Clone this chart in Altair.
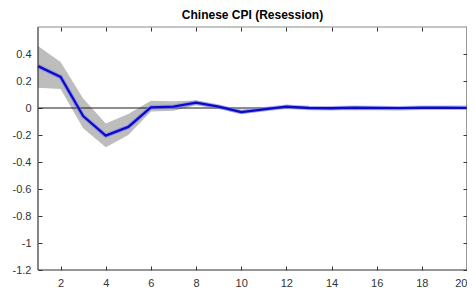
import altair as alt
import pandas as pd

steps = list(range(1, 21))
irf = [0.31, 0.23, -0.06, -0.205, -0.14, 0.005, 0.01, 0.04, 0.01, -0.03,
       -0.01, 0.01, 0.0, -0.002, 0.002, 0.0, -0.001, 0.002, 0.002, 0.001]
upper = [0.46, 0.34, 0.07, -0.115, -0.045, 0.054, 0.05, 0.055, 0.02, -0.015,
         0.0, 0.02, 0.01, 0.008, 0.01, 0.008, 0.006, 0.008, 0.007, 0.006]
lower = [0.15, 0.14, -0.15, -0.29, -0.2, -0.025, -0.02, 0.02, -0.005, -0.045,
         -0.02, 0.0, -0.01, -0.012, -0.006, -0.008, -0.008, -0.004, -0.003, -0.004]
x_ticks = [2, 4, 6, 8, 10, 12, 14, 16, 18, 20]
y_ticks = [0.4, 0.2, 0, -0.2, -0.4, -0.6, -0.8, -1, -1.2]
x_limits = [1, 20]
y_limits = [-1.2, 0.6]

df = pd.DataFrame({"step": steps, "irf": irf, "upper": upper, "lower": lower})
frame_df = pd.DataFrame({"x0": [x_limits[0]], "x1": [x_limits[1]],
                         "y0": [y_limits[0]], "y1": [y_limits[1]]})

xs = alt.Scale(domain=x_limits, nice=False, zero=False)
ys = alt.Scale(domain=y_limits, nice=False, zero=False)

tick_common = dict(domain=False, grid=False, tickSize=4, offset=-4, tickColor="#333333",
                   tickWidth=1,
                   labelColor="#333333", labelFont="Liberation Sans", labelFontSize=11,
                   title=None)

xax = alt.Axis(values=x_ticks, orient="bottom", labelPadding=7,
               labelExpr="'' + datum.value", **tick_common)
yax = alt.Axis(values=y_ticks, orient="left", labelPadding=7,
               labelExpr="'' + datum.value", **tick_common)
xax_top = alt.Axis(values=x_ticks, orient="top", labels=False, **tick_common)
yax_right = alt.Axis(values=y_ticks, orient="right", labels=False, **tick_common)

base = alt.Chart(df)

band = base.mark_area(color="#bdbdbd", opacity=1).encode(
    x=alt.X("step:Q", scale=xs, axis=xax),
    y=alt.Y("upper:Q", scale=ys, axis=yax),
    y2="lower:Q",
)

zero = alt.Chart(frame_df).mark_rule(color="#1a1a1a", strokeWidth=1).encode(
    x=alt.X("x0:Q", scale=xs, axis=None),
    x2="x1:Q",
    y=alt.Y(datum=0, scale=ys, axis=None),
)

halo = base.mark_line(color="#8080e8", strokeWidth=4.5, opacity=0.6).encode(
    x=alt.X("step:Q", scale=xs, axis=xax_top),
    y=alt.Y("irf:Q", scale=ys, axis=yax_right),
)

line = base.mark_line(color="#0a0acc", strokeWidth=2.3).encode(
    x=alt.X("step:Q", scale=xs, axis=None),
    y=alt.Y("irf:Q", scale=ys, axis=None),
)

frame_left = alt.Chart(frame_df).mark_rule(color="#333333", strokeWidth=1.2).encode(
    x=alt.X("x0:Q", scale=xs, axis=None),
    y=alt.Y("y0:Q", scale=ys, axis=None),
    y2="y1:Q",
)
frame_right = alt.Chart(frame_df).mark_rule(color="#555555", strokeWidth=1.2).encode(
    x=alt.X("x1:Q", scale=xs, axis=None),
    y=alt.Y("y0:Q", scale=ys, axis=None),
    y2="y1:Q",
)
frame_bottom = alt.Chart(frame_df).mark_rule(color="#333333", strokeWidth=1.2).encode(
    x=alt.X("x0:Q", scale=xs, axis=None),
    x2="x1:Q",
    y=alt.Y("y0:Q", scale=ys, axis=None),
)
frame_top = alt.Chart(frame_df).mark_rule(color="#888888", strokeWidth=1).encode(
    x=alt.X("x0:Q", scale=xs, axis=None),
    x2="x1:Q",
    y=alt.Y("y1:Q", scale=ys, axis=None),
)

chart = alt.layer(band, zero, halo, line, frame_left, frame_right, frame_bottom, frame_top).resolve_axis(
    x="independent", y="independent"
).properties(
    width=429,
    height=243,
    autosize=alt.AutoSizeParams(type="none"),
    padding={"left": 30, "top": 19, "right": 0, "bottom": 24},
    title=alt.Title("Chinese CPI (Resession)", font="Liberation Sans", fontSize=12,
                    fontWeight="bold", color="#000000", offset=4, anchor="middle"),
).configure_view(stroke=None)

chart.save("out.html", embed_options={"renderer": "svg", "actions": False})
